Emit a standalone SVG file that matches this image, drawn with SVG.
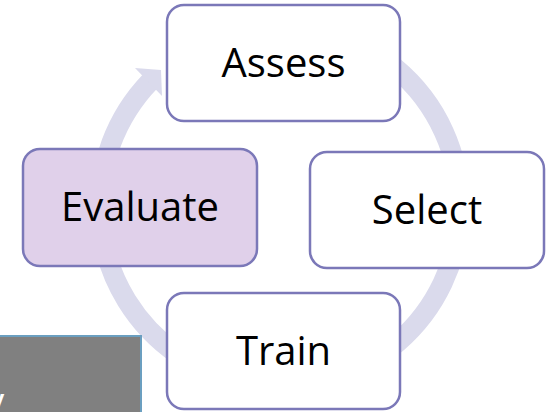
<svg xmlns="http://www.w3.org/2000/svg" width="559" height="412" viewBox="0 0 559 412">
<style>
.box{fill:#ffffff;stroke:#7b78b8;stroke-width:2.5}
.hl{fill:#e0d0ea}
.lbl{font-family:"Open Sans","Liberation Sans",sans-serif;font-size:40px;fill:#000000;text-anchor:middle}
.ring{fill:none;stroke:#dadaec;stroke-width:20}
</style>
<rect x="0" y="0" width="559" height="412" fill="#ffffff"/>
<g id="connectors">
<path class="ring" d="M 329.6 33.1 A 180 180 0 1 1 150.5 81"/>
<polygon points="135,68 161,70 162,96" fill="#dadaec"/>
</g>
<g id="panel">
<rect x="-4" y="336" width="145" height="80" fill="#808080" stroke="#6b9fc0" stroke-width="2"/>
<text x="-9" y="407" font-family="Liberation Sans, sans-serif" font-size="24" font-weight="bold" fill="#ffffff">y</text>
</g>
<g id="assess">
<rect class="box" x="167" y="5" width="233" height="116" rx="17"/>
<text class="lbl" x="283.5" y="77">Assess</text>
</g>
<g id="select">
<rect class="box" x="310" y="152" width="234" height="116" rx="17"/>
<text class="lbl" x="427" y="224">Select</text>
</g>
<g id="train">
<rect class="box" x="167" y="293" width="233" height="116" rx="17"/>
<text class="lbl" x="283.5" y="365">Train</text>
</g>
<g id="evaluate">
<rect class="box hl" x="23" y="149" width="234" height="117" rx="17"/>
<text class="lbl" x="140" y="221">Evaluate</text>
</g>
</svg>
